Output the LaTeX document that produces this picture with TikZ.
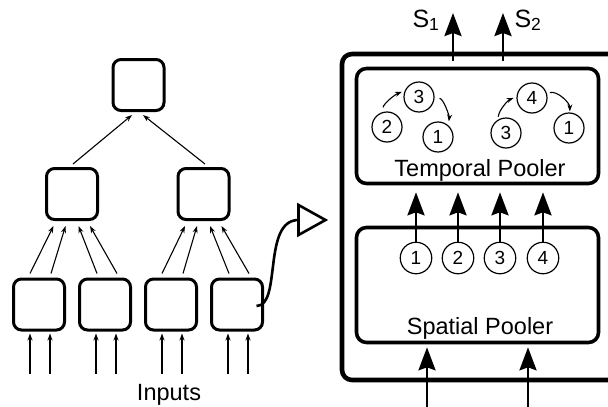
\documentclass[tikz,border=0pt]{standalone}
\usepackage{fontspec}
\setmainfont{Liberation Sans}
\usetikzlibrary{positioning,arrows.meta,shapes.geometric,calc}

\begin{document}
\begin{tikzpicture}[x=1pt, y=-1pt,
      caja/.style={draw, rounded corners=8pt, line width=3pt, minimum size=51pt, inner sep=0pt},
      pool/.style={draw, rounded corners=10pt, line width=3.6pt, minimum width=242pt,
                   minimum height=115pt, inner sep=0pt},
      num/.style={draw, circle, line width=1.2pt, minimum size=30pt, inner sep=0pt,
                  font=\fontsize{19}{19}\selectfont},
      f/.style={-{Stealth[length=7pt,width=5pt]}, line width=1.1pt},
      g/.style={-{Stealth[length=23pt,width=17pt,inset=3pt]}, line width=2.7pt},
      et/.style={font=\fontsize{23.5}{26}\selectfont},
      sal/.style={font=\fontsize{25}{26}\selectfont}]

  \useasboundingbox (0,0) rectangle (608,407);

  % Jerarquia
  \node[caja] (top) at (138.5,85) {};
  \node[caja] (m1) at (72,194) {};
  \node[caja] (m2) at (203.5,194) {};
  \node[caja] (b1) at (39,304.5) {};
  \node[caja, right=12pt of b1] (b2) {};
  \node[caja, right=12pt of b2] (b3) {};
  \node[caja, right=12pt of b3] (b4) {};

  \foreach \b in {b1,b2,b3,b4}
    \foreach \dx in {-9,11}
      \draw[f] ($(\b.south)+(\dx,42)$) -- ($(\b.south)+(\dx,2)$);

  \foreach \b/\m/\p/\q in {b1/m1/-9/-18.5, b1/m1/12/-6.5, b2/m1/-8/6.5, b2/m1/12/18,
                           b3/m2/-9/-18.5, b3/m2/12/-6.5, b4/m2/-8/6.5, b4/m2/12/18}
    \draw[f] ($(\b.north)+(\p,-4)$) -- ($(\m.south)+(\q,5)$);

  \draw[f] ($(m1.north)+(1,-3)$) -- ($(top.south)+(-6.5,3)$);
  \draw[f] ($(m2.north)+(1.5,-3)$) -- ($(top.south)+(4.5,3)$);

  \node[et, anchor=base] (inp) at (169,400) {Inputs};

  % Zoom a un nodo
  \coordinate (zoom) at (298.5,220);
  \draw[line width=2.6pt, line join=miter] (zoom) ++(0,-15) -- ++(27,15) -- ++(-27,15) -- cycle;
  \draw[line width=2.6pt] ($(b4.center)+(19.5,1.5)$) .. controls (282,306) and (262,220) .. (zoom);

  % Nodo HTM
  \node[draw, rounded corners=10pt, line width=4.6pt, minimum width=300pt,
        minimum height=326pt] (htm) at (492,217) {};
  \node[pool] (tp) at (477.5,126) {};
  \node[pool] (sp) at (477.5,285) {};
  \node[et, anchor=base] (tpl) at (480,176) {Temporal Pooler};
  \node[et, anchor=base] (spl) at (480,334) {Spatial Pooler};

  \foreach \i/\x in {1/416,2/458,3/500,4/543} {
    \node[num, minimum size=31.5pt] (c\i) at (\x,258) {\i};
    \draw[g, shorten >=7pt] (c\i.north) -- (c\i.north |- tp.south);
  }

  % Secuencias
  \node[num] (p2) at (387,127) {2};
  \node[num] (p3) at (419,97) {3};
  \node[num] (p1) at (438,137) {1};
  \node[num] (q3) at (506,133) {3};
  \node[num] (q4) at (532,98) {4};
  \node[num] (q1) at (569,128) {1};

  \draw[f, shorten <=5pt, shorten >=3pt] (p2.109) .. controls +(2,-9) and +(-10,4) .. (p3.156);
  \draw[f, shorten <=5pt, shorten >=4pt] (p3.-5) .. controls +(9,0) and +(1,-9) .. (p1.48);
  \draw[f, shorten <=3pt, shorten >=3pt] (q3.121) .. controls +(1,-10) and +(-8,3) .. (q4.176);
  \draw[f, shorten <=3pt, shorten >=1pt] (q4.17) .. controls +(10,-3) and +(0,-10) .. (q1.87);

  % Entradas y salidas
  \coordinate (e1) at (427,410);
  \coordinate (e2) at (528,410);
  \draw[g, shorten >=3pt] (e1) -- (e1 |- sp.south);
  \draw[g, shorten >=3pt] (e2) -- (e2 |- sp.south);

  \coordinate (s1) at (453,13);
  \coordinate (s2) at (503,13);
  \draw[g] ($(tp.north)+(-24.5,-6)$) -- (s1);
  \draw[g] ($(tp.north)+(25.5,-6)$) -- (s2);
  \node[sal, anchor=base east] (s1l) at (443,27) {S\textsubscript{1}};
  \node[sal, anchor=base west] (s2l) at (511,27) {S\textsubscript{2}};
\end{tikzpicture}
\end{document}
